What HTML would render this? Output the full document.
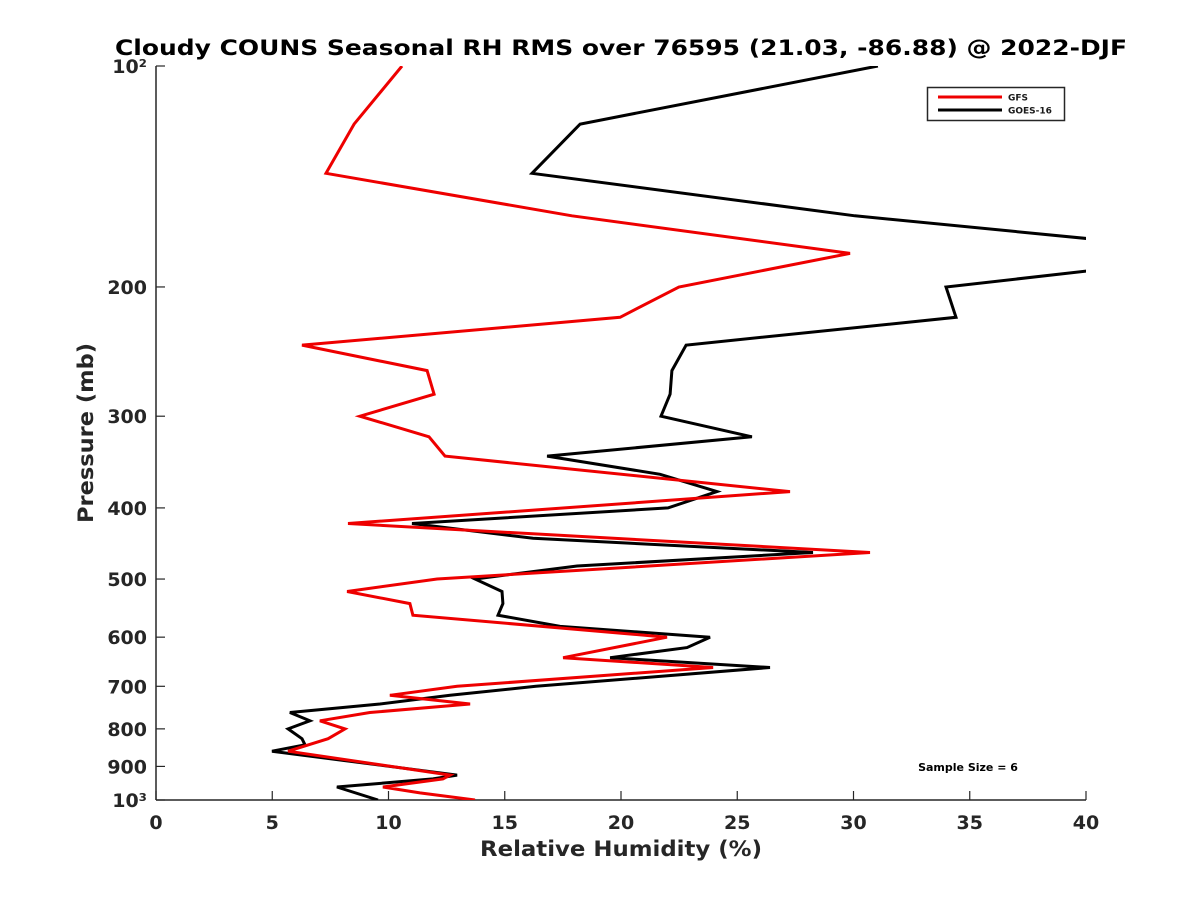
<!DOCTYPE html>
<html><head><meta charset="utf-8"><style>
body{margin:0;background:#fff}
svg{font-family:"DejaVu Sans","Liberation Sans",sans-serif;font-weight:bold}
</style></head><body>
<svg id="chart" width="1200" height="900" viewBox="0 0 1200 900">
<text x="621" y="55" font-size="21" text-anchor="middle" fill="#000" textLength="1012" lengthAdjust="spacingAndGlyphs">Cloudy COUNS Seasonal RH RMS over 76595 (21.03, -86.88) @ 2022-DJF</text>
<defs><clipPath id="plotclip"><rect x="156" y="66" width="930" height="734"/></clipPath></defs>
<g id="axes"></g>
<g id="series" clip-path="url(#plotclip)"></g>
<g>
<rect x="927.5" y="87.5" width="137" height="33" fill="#fff" stroke="#262626" stroke-width="1.5"/>
<line x1="938" y1="97" x2="1002" y2="97" stroke="#e00" stroke-width="3"/>
<text x="1008" y="100.5" font-size="9" fill="#1a1a1a">GFS</text>
<line x1="938" y1="110" x2="1002" y2="110" stroke="#000" stroke-width="3"/>
<text x="1008" y="113.5" font-size="9" fill="#1a1a1a">GOES-16</text>
</g>
<text x="968" y="771" font-size="11" text-anchor="middle" fill="#000">Sample Size = 6</text>
<text x="621" y="856" font-size="21" text-anchor="middle" fill="#262626" textLength="282" lengthAdjust="spacingAndGlyphs">Relative Humidity (%)</text>
<text transform="translate(93,433) rotate(-90)" font-size="21" text-anchor="middle" fill="#262626" textLength="180" lengthAdjust="spacingAndGlyphs">Pressure (mb)</text>
</svg>
<script>
const xTicks=[0,5,10,15,20,25,30,35,40];
const yTicks=[100,200,300,400,500,600,700,800,900,1000];
const yTickLabels=["10²","200","300","400","500","600","700","800","900","10³"];
const gfsPressure=[100,120,140,160,180,200,220,240,260,280,300,320,340,380,420,460,500,520,540,560,600,640,660,700,720,740,760,780,800,825,858,925,936,960,978,1000];
const gfsRH=[10.58,8.52,7.31,17.89,29.85,22.49,19.96,6.28,11.66,11.96,8.77,11.74,12.43,27.27,8.26,30.71,12.09,8.22,10.92,11.05,21.98,17.51,23.96,12.95,10.06,13.51,9.2,7.05,8.13,7.4,5.68,12.65,12.34,9.76,11.35,13.72];
const goesPressure=[100,120,140,160,172,180,190,200,220,240,260,280,300,320,340,360,380,400,420,440,460,480,500,520,540,560,580,600,620,640,660,700,720,740,760,780,800,825,841,858,925,936,960,1000];
const goesRH=[31.05,18.24,16.17,30.06,40.2,48,40.2,33.98,34.41,22.8,22.19,22.11,21.72,25.63,16.82,21.68,24.13,22.02,11.01,16.22,28.26,18.11,13.72,14.88,14.92,14.71,17.38,23.83,22.84,19.53,26.41,16.34,12.65,9.63,5.76,6.62,5.68,6.28,6.41,4.99,12.95,11.91,7.78,9.55];
const NS="http://www.w3.org/2000/svg";
const X0=156,X1=1086,Y0=66,Y1=800;
const xs=v=>X0+(v/40)*(X1-X0);
const ys=p=>Y0+(Math.log10(p)-2)*(Y1-Y0);
function mk(t,a,parent){const e=document.createElementNS(NS,t);for(const k in a)e.setAttribute(k,a[k]);parent.appendChild(e);return e;}
const axes=document.getElementById('axes');
const sp1=mk('line',{x1:X0,y1:Y0,x2:X0,y2:Y1,stroke:'#262626','stroke-width':1.5},axes);


const sp2=mk('line',{x1:X0,y1:Y1,x2:X1,y2:Y1,stroke:'#262626','stroke-width':1.5},axes);


xTicks.forEach(v=>{
 const t=mk('line',{x1:xs(v),y1:Y1,x2:xs(v),y2:Y1-9,stroke:'#262626','stroke-width':1.2},axes);
 
 
 const l=mk('text',{x:xs(v),y:Y1+29,'font-size':19,'text-anchor':'middle',fill:'#262626'},axes);
 
 
 l.textContent=v;
});
yTicks.forEach((p,i)=>{
 const t=mk('line',{x1:X0,y1:ys(p),x2:X0+9,y2:ys(p),stroke:'#262626','stroke-width':1.2},axes);
 
 
 const l=mk('text',{x:X0-9,y:ys(p)+7,'font-size':19,'text-anchor':'end',fill:'#262626'},axes);
 
 
 l.textContent=yTickLabels[i];
});
const sg=document.getElementById('series');
function draw(pr,rh,col,name){
 const pts=pr.map((p,i)=>xs(rh[i]).toFixed(1)+','+ys(p).toFixed(1)).join(' ');
 const pl=mk('polyline',{points:pts,fill:'none',stroke:col,'stroke-width':3,'stroke-linejoin':'miter'},sg);
 
 
}
draw(goesPressure,goesRH,'#000','goes-16-line');
draw(gfsPressure,gfsRH,'#e00','gfs-line');
</script>
</body></html>
